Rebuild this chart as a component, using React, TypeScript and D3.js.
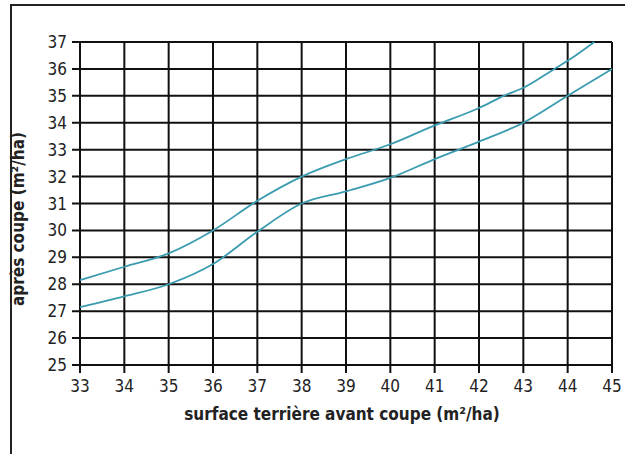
import React, { useEffect, useRef } from "react";
import * as d3 from "d3";

const xTicks = [33, 34, 35, 36, 37, 38, 39, 40, 41, 42, 43, 44, 45];
const yTicks = [25, 26, 27, 28, 29, 30, 31, 32, 33, 34, 35, 36, 37];

// upper curve
const upperX = [33, 34, 35, 36, 37, 38, 39, 40, 41, 42, 42.56, 43, 43.7, 44, 44.6];
const upperY = [28.15, 28.65, 29.15, 30.0, 31.1, 32.0, 32.65, 33.2, 33.9, 34.55, 35.0, 35.3, 36.0, 36.3, 37.0];

// lower curve
const lowerX = [33, 34, 35, 36, 37, 38, 39, 40, 41, 42, 43, 44, 45];
const lowerY = [27.15, 27.55, 28.0, 28.75, 29.95, 31.0, 31.45, 31.95, 32.65, 33.3, 34.0, 35.0, 36.0];

const App: React.FC = () => {
  const svgRef = useRef(null);

  useEffect(() => {
    if (!svgRef.current) return;
    const svg = d3.select(svgRef.current);
    svg.selectAll("*").remove();

    const width = 625;
    const height = 454;
    const left = 80;
    const right = 612;
    const top = 42;
    const bottom = 365;
    const font = "'DejaVu Sans Condensed', 'DejaVu Sans', sans-serif";

    svg.attr("width", width).attr("height", height);

    svg.append("rect").attr("width", width).attr("height", height).attr("fill", "#fff");

    // outer frame (only top/left visible)
    svg
      .append("path")
      .attr("d", `M11,${height} L11,5 L${width},5`)
      .attr("fill", "none")
      .attr("stroke", "#222")
      .attr("stroke-width", 2);

    const x = d3.scaleLinear().domain([33, 45]).range([left, right]);
    const y = d3.scaleLinear().domain([25, 37]).range([bottom, top]);

    const grid = svg.append("g");
    xTicks.forEach((t) => {
      grid
        .append("line")
        .attr("x1", x(t))
        .attr("x2", x(t))
        .attr("y1", top)
        .attr("y2", bottom + 8)
        .attr("stroke", "#111")
        .attr("stroke-width", 2);
    });
    yTicks.forEach((t) => {
      grid
        .append("line")
        .attr("x1", left - 8)
        .attr("x2", right)
        .attr("y1", y(t))
        .attr("y2", y(t))
        .attr("stroke", "#111")
        .attr("stroke-width", 2);
    });

    svg
      .append("g")
      .selectAll("text")
      .data(yTicks)
      .join("text")
      .attr("x", 67)
      .attr("y", (d) => y(d) + 6)
      .attr("text-anchor", "end")
      .style("font-family", font)
      .style("font-stretch", "condensed")
      .style("font-size", "17px")
      .attr("fill", "#222")
      .text((d) => d);

    svg
      .append("g")
      .selectAll("text")
      .data(xTicks)
      .join("text")
      .attr("x", (d) => x(d))
      .attr("y", 392)
      .attr("text-anchor", "middle")
      .style("font-family", font)
      .style("font-stretch", "condensed")
      .style("font-size", "17px")
      .attr("fill", "#222")
      .text((d) => d);

    svg
      .append("text")
      .attr("x", 342)
      .attr("y", 420)
      .attr("text-anchor", "middle")
      .style("font-family", font)
      .style("font-stretch", "condensed")
      .style("font-size", "17px")
      .style("font-weight", "bold")
      .attr("fill", "#222")
      .text("surface terrière avant coupe (m²/ha)");

    svg
      .append("text")
      .attr("transform", `translate(24,${219}) rotate(-90)`)
      .attr("text-anchor", "middle")
      .style("font-family", font)
      .style("font-stretch", "condensed")
      .style("font-size", "17px")
      .style("font-weight", "bold")
      .attr("fill", "#222")
      .text("après coupe (m²/ha)");

    const line = d3
      .line<[number, number]>()
      .x((d) => x(d[0]))
      .y((d) => y(d[1]))
      .curve(d3.curveMonotoneX);

    const upper = upperX.map((v, i) => [v, upperY[i]] as [number, number]);
    const lower = lowerX.map((v, i) => [v, lowerY[i]] as [number, number]);

    [upper, lower].forEach((pts) => {
      svg
        .append("path")
        .datum(pts)
        .attr("d", line)
        .attr("fill", "none")
        .attr("stroke", "#3b9cb0")
        .attr("stroke-width", 1.8);
    });
  }, []);

  return (
    <svg
      ref={svgRef}
      style={{ position: "absolute", left: 0, top: 0, display: "block" }}
    />
  );
};

export default App;
